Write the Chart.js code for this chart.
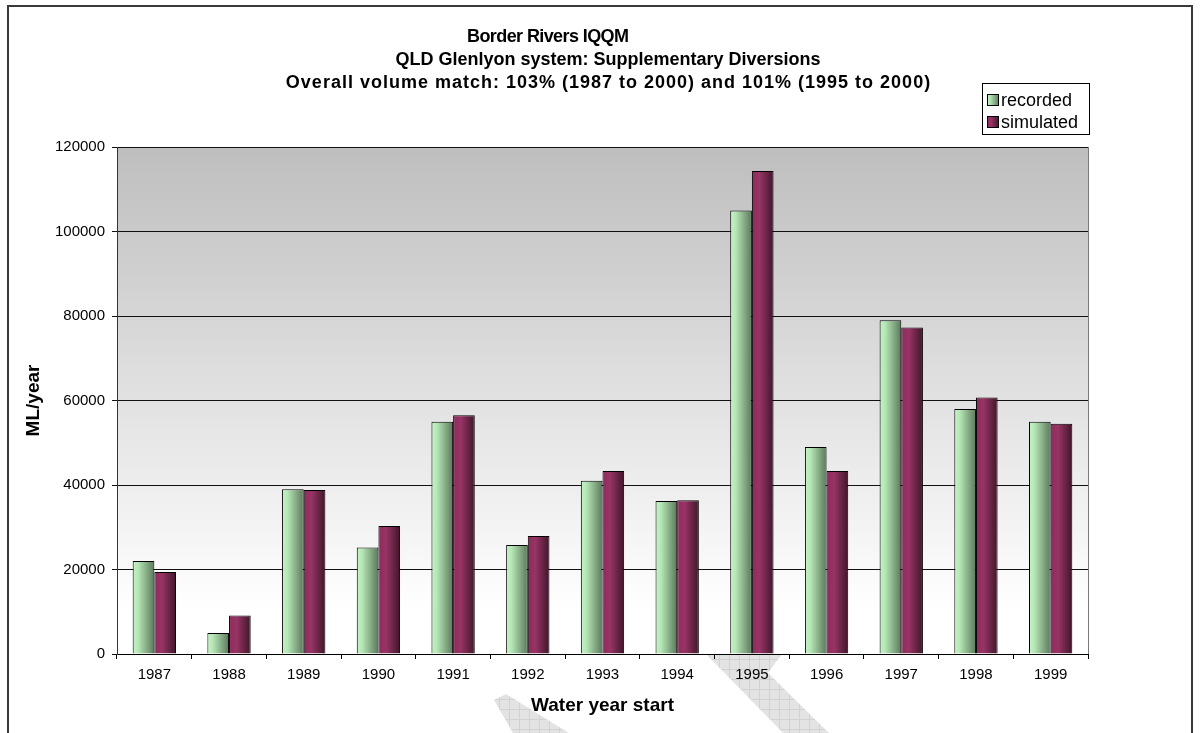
<!DOCTYPE html>
<html>
<head>
<meta charset="utf-8">
<script src="https://cdn.jsdelivr.net/npm/chart.js@4/dist/chart.umd.min.js"></script>
<style>
  html, body { margin: 0; padding: 0; background: #ffffff; }
  #wrap { width: 1200px; height: 733px; position: relative; }
</style>
</head>
<body>
<div id="wrap"><canvas id="c" width="1200" height="733"></canvas></div>
<script>
// Water year start (categories)
const years = ['1987', '1988', '1989', '1990', '1991', '1992', '1993',
               '1994', '1995', '1996', '1997', '1998', '1999'];
// Supplementary diversions, ML/year
const recorded  = [22000, 5000, 39000, 25200, 55000, 25800, 41000,
                   36200, 105000, 49000, 79000, 58000, 55000];
const simulated = [19400, 9100, 38800, 30300, 56500, 27900, 43300,
                   36400, 114300, 43300, 77300, 60700, 54500];
const seriesNames = ['recorded', 'simulated'];
const yMin = 0, yMax = 120000, yStep = 20000;

const titleLines = [
  'Border Rivers IQQM',
  'QLD Glenlyon system: Supplementary Diversions',
  'Overall volume match: 103% (1987 to 2000) and 101% (1995 to 2000)'
];
const xTitle = 'Water year start';
const yTitle = 'ML/year';

const FONT = "'Liberation Sans', Arial, Helvetica, sans-serif";
const CAT_PCT = 0.58;

// horizontal shading for each series
const shades = {
  recorded:  [[0, '#c4f4c4'], [0.25, '#b6e6b6'], [1, '#5b785b']],
  simulated: [[0, '#8c2c5b'], [0.35, '#983465'], [1, '#3e1629']]
};

function hGradient(ctx, x0, x1, stops) {
  const g = ctx.createLinearGradient(x0, 0, x1, 0);
  stops.forEach(s => g.addColorStop(s[0], s[1]));
  return g;
}

// scriptable fill: gradient spans the bar's own width
function barFill(name, side) {
  return (c) => {
    const chart = c.chart;
    const xs = chart.scales && chart.scales.x;
    if (!xs || c.type !== 'data' || !xs.width) return shades[name][1][1];
    const center = xs.getPixelForValue(c.dataIndex);
    const half = (xs.width / years.length) * CAT_PCT / 2;
    const x0 = side < 0 ? center - half : center;
    return hGradient(chart.ctx, x0, x0 + half, shades[name]);
  };
}

// gray diagonal marks printed behind the chart
function drawWatermark(ctx) {
  const p = document.createElement('canvas');
  p.width = 10; p.height = 10;
  const pc = p.getContext('2d');
  pc.fillStyle = '#e3e3e3'; pc.fillRect(0, 0, 10, 10);
  pc.fillStyle = '#d2d2d2'; pc.fillRect(9, 0, 1, 10); pc.fillRect(0, 9, 10, 1);
  const pat = ctx.createPattern(p, 'repeat');
  ctx.save();
  ctx.fillStyle = pat;
  ctx.beginPath();
  ctx.moveTo(494, 700); ctx.lineTo(506, 694); ctx.lineTo(580, 740);
  ctx.lineTo(517, 740); ctx.closePath(); ctx.fill();
  ctx.beginPath();
  ctx.moveTo(707, 655); ctx.lineTo(781, 655); ctx.lineTo(768, 673);
  ctx.lineTo(836, 740); ctx.lineTo(790, 740); ctx.closePath(); ctx.fill();
  ctx.restore();
}

function spacedText(ctx, text, x, y, spacing) {
  if ('letterSpacing' in ctx) {
    ctx.letterSpacing = spacing + 'px';
    ctx.fillText(text, x + spacing / 2, y);
    ctx.letterSpacing = '0px';
  } else {
    ctx.fillText(text, x, y);
  }
}

const decor = {
  id: 'decor',
  beforeDraw(chart) {
    const { ctx, chartArea: a } = chart;
    ctx.save();
    ctx.fillStyle = '#ffffff';
    ctx.fillRect(0, 0, chart.width, chart.height);
    drawWatermark(ctx);
    // plot area: gray fading to white towards the base
    const g = ctx.createLinearGradient(0, a.top, 0, a.bottom);
    g.addColorStop(0, '#bebebe');
    g.addColorStop(0.91, '#ffffff');
    g.addColorStop(1, '#ffffff');
    ctx.fillStyle = g;
    ctx.fillRect(a.left, a.top, a.right - a.left, a.bottom - a.top);
    ctx.restore();
  },
  afterDatasetsDraw(chart) {
    const { ctx, chartArea: a } = chart;
    ctx.save();
    ctx.strokeStyle = '#7a7a7a';
    ctx.lineWidth = 1;
    ctx.beginPath();
    ctx.moveTo(Math.round(a.right) + 0.5, a.top);
    ctx.lineTo(Math.round(a.right) + 0.5, a.bottom);
    ctx.stroke();
    ctx.restore();
  },
  afterDraw(chart) {
    const { ctx, chartArea: a } = chart;
    ctx.save();
    // outer frame
    ctx.strokeStyle = '#3a3a3a';
    ctx.lineWidth = 2;
    ctx.strokeRect(8, 6, 1184, 740);

    // chart title
    ctx.fillStyle = '#000';
    ctx.textAlign = 'center';
    ctx.textBaseline = 'middle';
    ctx.font = 'bold 18px ' + FONT;
    const tx = [548, 608, 608], ty = [37, 60, 83], sp = [-0.6, 0, 1.0];
    titleLines.forEach((t, i) => spacedText(ctx, t, tx[i], ty[i], sp[i]));

    // category axis title, centred under the plot
    ctx.font = 'bold 19px ' + FONT;
    ctx.fillText(xTitle, (a.left + a.right) / 2, 706);

    // legend
    const lx = 982, ly = 83, lw = 107, lh = 51;
    ctx.fillStyle = '#ffffff';
    ctx.fillRect(lx, ly, lw, lh);
    ctx.strokeStyle = '#000';
    ctx.lineWidth = 1;
    ctx.strokeRect(lx + 0.5, ly + 0.5, lw, lh);
    ctx.font = '18px ' + FONT;
    ctx.textAlign = 'left';
    seriesNames.forEach((n, i) => {
      const cy = ly + 17 + i * 22;
      const sx = lx + 5, sz = 12;
      ctx.fillStyle = hGradient(ctx, sx, sx + sz, shades[n]);
      ctx.fillRect(sx, cy - sz / 2, sz, sz);
      ctx.strokeStyle = '#000';
      ctx.strokeRect(sx + 0.5, cy - sz / 2 + 0.5, sz - 1, sz - 1);
      ctx.fillStyle = '#000';
      ctx.fillText(n, sx + sz + 2, cy + 1);
    });
    ctx.restore();
  }
};

new Chart(document.getElementById('c'), {
  type: 'bar',
  data: {
    labels: years,
    datasets: [
      { label: seriesNames[0], data: recorded, backgroundColor: barFill('recorded', -1),
        borderColor: '#000', borderWidth: 1, borderSkipped: 'bottom' },
      { label: seriesNames[1], data: simulated, backgroundColor: barFill('simulated', 1),
        borderColor: '#000', borderWidth: 1, borderSkipped: 'bottom' }
    ]
  },
  options: {
    responsive: false,
    animation: false,
    devicePixelRatio: 1,
    datasets: { bar: { categoryPercentage: CAT_PCT, barPercentage: 1.0 } },
    layout: { padding: { left: 18, right: 112, top: 147, bottom: 14 } },
    plugins: {
      legend: { display: false },
      title: { display: false },
      tooltip: { enabled: false }
    },
    scales: {
      x: {
        offset: true,
        grid: { offset: true, drawOnChartArea: false, drawTicks: true, tickLength: 5, color: '#000' },
        border: { display: true, color: '#000', width: 1 },
        ticks: { color: '#000', font: { family: FONT, size: 15 }, padding: 7, maxRotation: 0 },
        afterFit(s) { s.height = 65; }
      },
      y: {
        min: yMin, max: yMax,
        grid: { color: '#111', lineWidth: 1, drawTicks: true, tickLength: 5 },
        border: { display: true, color: '#333', width: 1 },
        ticks: { stepSize: yStep, color: '#000', font: { family: FONT, size: 15 }, padding: 7,
                 callback: v => String(v) },
        title: { display: true, text: yTitle, color: '#000',
                 font: { family: FONT, size: 19, weight: 'bold' }, padding: { top: 4, bottom: 4 } },
        afterFit(s) { s.width = 117 - 18; }
      }
    }
  },
  plugins: [decor]
});
</script>
</body>
</html>
